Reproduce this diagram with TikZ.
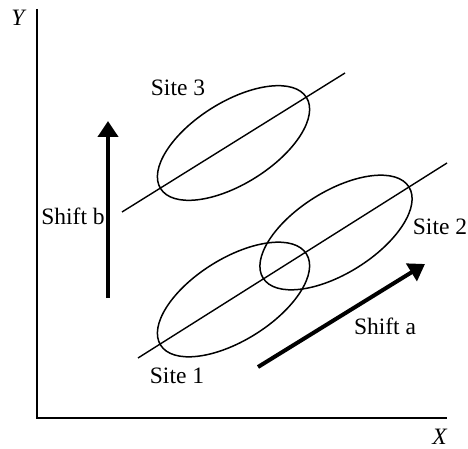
\documentclass[tikz,border=0pt]{standalone}
\usepackage{fontspec}
\setmainfont{Liberation Serif}
\usetikzlibrary{arrows.meta}
\tikzset{
  axis/.style={line width=2pt},
  thin line/.style={line width=1.4pt},
  oval/.style={line width=1.5pt},
  shiftarrow/.style={line width=4pt,-{Triangle[length=16pt,width=20pt]}},
  lbl/.style={font=\fontsize{23.5}{27}\selectfont, inner sep=0pt}
}
\begin{document}
\begin{tikzpicture}[x=1pt,y=-1pt]
\useasboundingbox (0,0) rectangle (468,449);
% axes
\coordinate (ytop) at (37,9);
\coordinate (orig) at (37,418);
\coordinate (xend) at (447,418);
\draw[axis] (ytop) -- (orig) -- (xend);
\node[lbl] (ylab) at (19,18) {\textit{Y}};
\node[lbl] (xlab) at (440,437) {\textit{X}};
% regression lines
\coordinate (l1a) at (138,358);
\coordinate (l1b) at (447,163);
\coordinate (l2a) at (122,212);
\coordinate (l2b) at (345,73);
\draw[thin line] (l1a) -- (l1b);
\draw[thin line] (l2a) -- (l2b);
% ellipses
\coordinate (c1) at (233.5,299.5);
\coordinate (c2) at (336,232.5);
\coordinate (c3) at (233.5,143);
\foreach \c in {c1,c2,c3}{
  \draw[oval, rotate around={32:(\c)}] (\c) ellipse [x radius=86, y radius=41];
}
% labels
\node[lbl] (s1) at (177,376) {Site 1};
\node[lbl] (s2) at (440,227) {Site 2};
\node[lbl] (s3) at (178,88) {Site 3};
\node[lbl] (sa) at (385,326) {Shift a};
\node[lbl] (sb) at (73,216) {Shift b};
% shift arrows
\coordinate (a0) at (258,367);
\coordinate (a1) at (425,264);
\coordinate (b0) at (108,298);
\coordinate (b1) at (108,121);
\draw[shiftarrow] (a0) -- (a1);
\draw[shiftarrow] (b0) -- (b1);
\end{tikzpicture}
\end{document}
